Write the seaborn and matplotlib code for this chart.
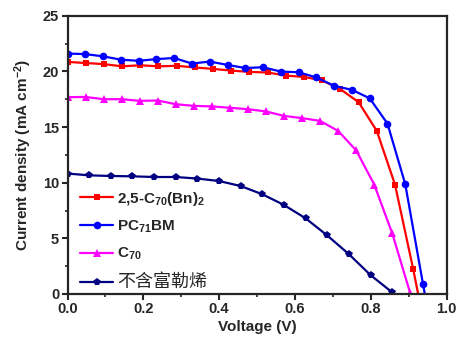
import numpy as np
import pandas as pd
import matplotlib
matplotlib.use("Agg")
import matplotlib.pyplot as plt
import seaborn as sns
from matplotlib.ticker import MultipleLocator

# ---- data ----
v_red = [round(i * 0.048, 3) for i in range(21)]
j_red = [20.85, 20.75, 20.65, 20.45, 20.55, 20.45, 20.5, 20.35, 20.22, 20.07,
         19.95, 19.9, 19.62, 19.5, 19.18, 18.4, 17.23, 14.65, 9.83, 2.24, -6.0]

v_blue = [round(i * 0.0469, 4) for i in range(22)]
j_blue = [21.6, 21.55, 21.35, 21.05, 20.95, 21.1, 21.2, 20.7, 20.88, 20.58,
          20.3, 20.37, 19.98, 19.92, 19.45, 18.7, 18.34, 17.58, 15.3, 9.86, 0.87, -8.0]

v_mag = [round(i * 0.0476, 4) for i in range(20)]
j_mag = [17.68, 17.7, 17.5, 17.5, 17.35, 17.38, 17.05, 16.9, 16.85, 16.73,
         16.6, 16.4, 16.0, 15.8, 15.55, 14.65, 12.9, 9.83, 5.44, 0.05]

v_navy = [round(i * 0.0571, 4) for i in range(16)]
j_navy = [10.82, 10.66, 10.6, 10.57, 10.51, 10.51, 10.37, 10.15, 9.7, 8.96,
          8.0, 6.8, 5.26, 3.58, 1.7, 0.15]

labels = [r"2,5-C$_{70}$(Bn)$_{2}$", r"PC$_{71}$BM", r"C$_{70}$", "不含富勒烯"]
colors = ["#FF0000", "#0000FF", "#FF00FF", "#000080"]
markers = ["s", "o", "^", "p"]
msizes = [5.0, 5.5, 6.0, 5.5]

xticks = [0.0, 0.2, 0.4, 0.6, 0.8, 1.0]
yticks = [0, 5, 10, 15, 20, 25]

sns.set_style("ticks")
plt.rcParams["font.family"] = ["Liberation Sans", "DejaVu Sans"]
plt.rcParams["font.weight"] = "bold"
plt.rcParams["mathtext.fontset"] = "custom"
plt.rcParams["mathtext.rm"] = "Liberation Sans:bold"
plt.rcParams["mathtext.it"] = "Liberation Sans:bold"
plt.rcParams["mathtext.bf"] = "Liberation Sans:bold"
plt.rcParams["mathtext.default"] = "rm"

fig = plt.figure(figsize=(4.58, 3.49), dpi=100)
ax = fig.add_axes([0.1474, 0.1576, 0.8276, 0.7974])

series = [(v_red, j_red), (v_blue, j_blue), (v_mag, j_mag), (v_navy, j_navy)]
for (vx, jy), lab, c, m, ms in zip(series, labels, colors, markers, msizes):
    df = pd.DataFrame({"V": vx, "J": jy})
    sns.lineplot(data=df, x="V", y="J", ax=ax, color=c, marker=m,
                 markersize=ms, markeredgewidth=0,
                 linewidth=1.6, label=lab, sort=False, estimator=None)

ax.set_xlim(0, 1.0)
ax.set_ylim(0, 25)
ax.set_xticks(xticks)
ax.set_yticks(yticks)
ax.set_xticklabels([f"{t:.1f}" for t in xticks])
ax.set_yticklabels([str(t) for t in yticks])
ax.xaxis.set_minor_locator(MultipleLocator(0.1))
ax.yaxis.set_minor_locator(MultipleLocator(2.5))
ax.tick_params(which="major", direction="out", length=4, width=1.5,
               labelsize=10.5, pad=2)
ax.tick_params(which="minor", direction="out", length=2.5, width=1.2)
for lbl in ax.get_xticklabels() + ax.get_yticklabels():
    lbl.set_fontweight("bold")
for sp in ax.spines.values():
    sp.set_visible(True)
    sp.set_linewidth(1.6)

ax.set_xlabel("Voltage (V)", fontsize=11, fontweight="bold", labelpad=3)
ax.set_ylabel(r"Current density (mA cm$^{-2}$)", fontsize=11,
              fontweight="bold", labelpad=6)

leg = ax.legend(loc="lower left", bbox_to_anchor=(0.012, -0.018), frameon=False,
                fontsize=11, handlelength=2.2, handletextpad=0.25,
                labelspacing=0.72, borderaxespad=0.1)
texts = leg.get_texts()
for t in texts[:3]:
    t.set_fontweight("bold")
texts[3].set_fontfamily(["Noto Sans CJK SC", "DejaVu Sans"])
texts[3].set_fontweight("normal")
texts[3].set_fontsize(13)

fig.savefig("out.png", dpi=100)
